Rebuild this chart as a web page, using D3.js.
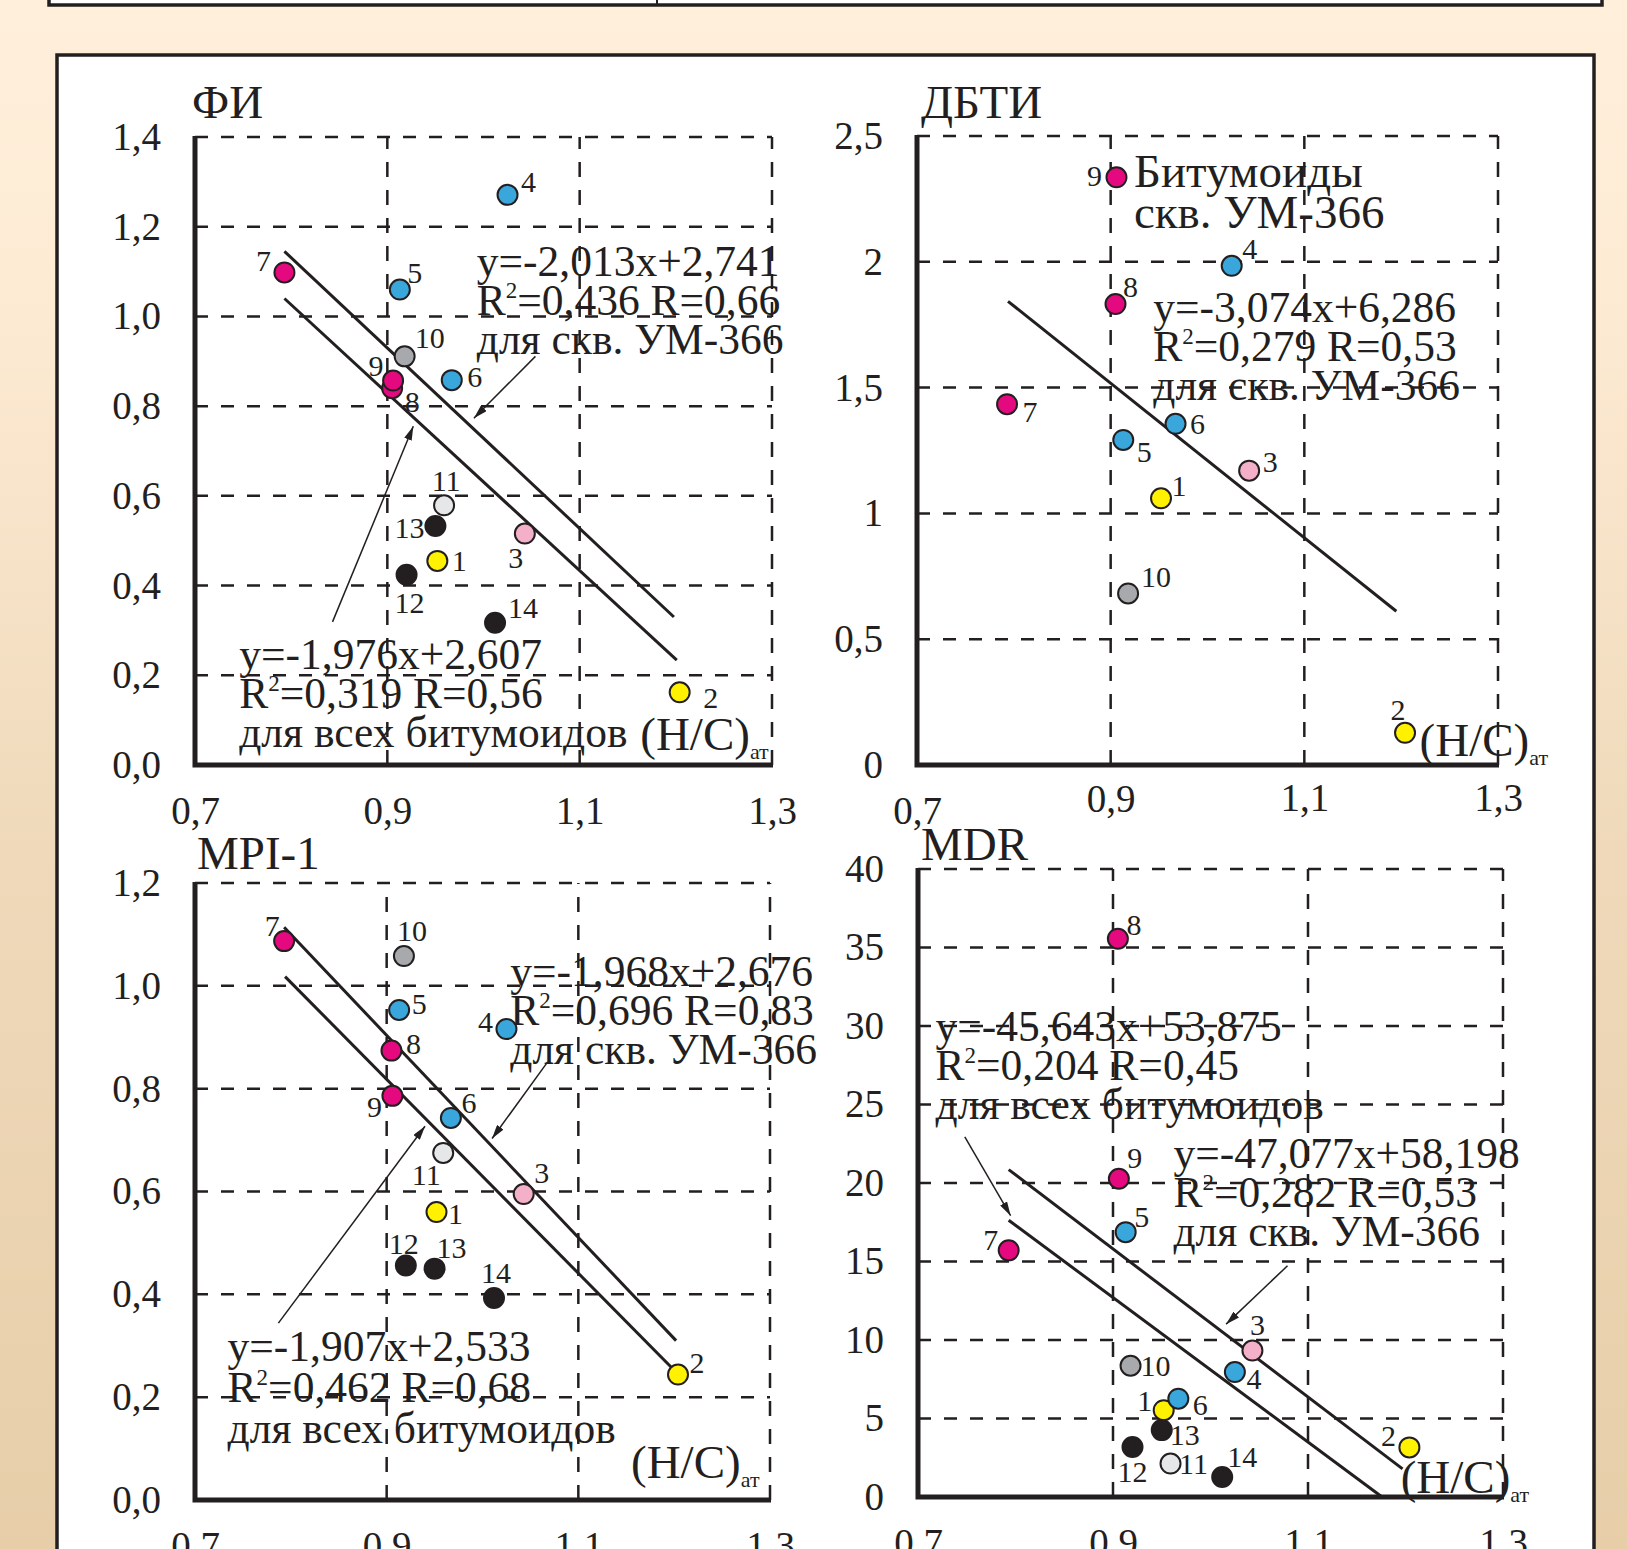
<!DOCTYPE html>
<html>
<head>
<meta charset="utf-8">
<script src="https://cdn.jsdelivr.net/npm/d3@7"></script>
<style>
  body { margin: 0; }
  svg text { font-family: "Liberation Serif", "Times New Roman", serif; fill: #231f20; }
</style>
</head>
<body>
<svg id="chart"></svg>
<script>
// samples 1..14, atomic H/C on the x axis (same for every panel)
const sampleIds = [1, 2, 3, 4, 5, 6, 7, 8, 9, 10, 11, 12, 13, 14];
const hcValues = [0.952, 1.204, 1.043, 1.025, 0.913, 0.967, 0.793, 0.905, 0.906, 0.918, 0.959, 0.920, 0.950, 1.012];

const fiValues   = [0.455, 0.162, 0.516, 1.271, 1.060, 0.858, 1.098, 0.840, 0.857, 0.911, 0.579, 0.424, 0.533, 0.317];
const dbtiValues = [1.060, 0.128, 1.170, 1.984, 1.292, 1.356, 1.434, 1.832, 2.336, 0.682, null, null, null, null];
const mpiValues  = [0.560, 0.244, 0.595, 0.916, 0.953, 0.743, 1.087, 0.874, 0.786, 1.058, 0.675, 0.456, 0.450, 0.393];
const mdrValues  = [5.53, 3.16, 9.33, 7.96, 16.87, 6.26, 15.71, 35.56, 20.27, 8.36, 2.13, 3.19, 4.26, 1.28];

// trend lines as [[x0, y0], [x1, y1]]
const fiTrendWell = [[0.793, 1.145], [1.198, 0.330]];
const fiTrendAll  = [[0.793, 1.040], [1.201, 0.234]];
const dbtiTrendWell = [[0.794, 1.843], [1.195, 0.611]];
const mpiTrendWell = [[0.793, 1.114], [1.202, 0.310]];
const mpiTrendAll  = [[0.794, 1.018], [1.205, 0.243]];
const mdrTrendWell = [[0.793, 20.85], [1.197, 1.79]];
const mdrTrendAll  = [[0.793, 17.63], [1.176, 0.0]];

// ticks
const xTicks = [0.7, 0.9, 1.1, 1.3];
const xTickLabels = ['0,7', '0,9', '1,1', '1,3'];
const fiTicks = [0, 0.2, 0.4, 0.6, 0.8, 1.0, 1.2, 1.4];
const fiTickLabels = ['0,0', '0,2', '0,4', '0,6', '0,8', '1,0', '1,2', '1,4'];
const dbtiTicks = [0, 0.5, 1, 1.5, 2, 2.5];
const dbtiTickLabels = ['0', '0,5', '1', '1,5', '2', '2,5'];
const mpiTicks = [0, 0.2, 0.4, 0.6, 0.8, 1.0, 1.2];
const mpiTickLabels = ['0,0', '0,2', '0,4', '0,6', '0,8', '1,0', '1,2'];
const mdrTicks = [0, 5, 10, 15, 20, 25, 30, 35, 40];
const mdrTickLabels = ['0', '5', '10', '15', '20', '25', '30', '35', '40'];

// equation texts
const fiWellText = ['y=-2,013x+2,741', 'R²=0,436 R=0,66', 'для скв. УМ-366'];
const fiAllText  = ['y=-1,976x+2,607', 'R²=0,319 R=0,56', 'для всех битумоидов'];
const dbtiWellText = ['y=-3,074x+6,286', 'R²=0,279 R=0,53', 'для скв. УМ-366'];
const dbtiLegendText = ['Битумоиды', 'скв. УМ-366'];
const mpiWellText = ['y=-1,968x+2,676', 'R²=0,696 R=0,83', 'для скв. УМ-366'];
const mpiAllText  = ['y=-1,907x+2,533', 'R²=0,462 R=0,68', 'для всех битумоидов'];
const mdrAllText  = ['y=-45,643x+53,875', 'R²=0,204 R=0,45', 'для всех битумоидов'];
const mdrWellText = ['y=-47,077x+58,198', 'R²=0,282 R=0,53', 'для скв. УМ-366'];
const axisNameText = '(H/C)_ат';

// styling
const sampleColors = ['#fff100', '#fff100', '#f4afc9', '#3aa7dc', '#3aa7dc', '#3aa7dc', '#e5097f',
  '#e5097f', '#e5097f', '#a7a9ac', '#e6e7e8', '#231f20', '#231f20', '#231f20'];
const ink = '#231f20';

// label offsets [dx, dy] of point numbers
const fiLabelOffsets = [[22,0],[31,5],[-9,24],[21,-13],[15,-17],[23,-3],[-21,-12],[20,14],[-17,-15],[25,-19],[2,-24],[3,28],[-26,2],[28,-15]];
const dbtiLabelOffsets = [[18,-13],[-7,-23],[21,-9],[18,-17],[21,12],[22,0],[23,8],[15,-17],[-22,-1],[28,-17],null,null,null,null];
const mpiLabelOffsets = [[19,2],[19,-12],[18,-21],[-21,-7],[20,-6],[18,-15],[-12,-15],[22,-7],[-18,11],[8,-25],[-17,22],[-2,-22],[17,-21],[2,-25]];
const mdrLabelOffsets = [[-19,-9],[-21,-12],[5,-26],[19,7],[16,-15],[22,6],[-18,-11],[16,-14],[16,-21],[25,0],[23,0],[0,25],[23,5],[20,-20]];

const W = 1627, H = 1549;
const svg = d3.select('#chart').attr('width', W).attr('height', H);

const defs = svg.append('defs');
const grad = defs.append('linearGradient').attr('id', 'bg').attr('x1', 0).attr('y1', 0).attr('x2', 0).attr('y2', 1);
[['0%', '#ffefdb'], ['18%', '#fdebd4'], ['55%', '#efd9ba'], ['100%', '#e7cea9']].forEach(([o, c]) =>
  grad.append('stop').attr('offset', o).attr('stop-color', c));
defs.append('marker')
  .attr('id', 'arrow').attr('markerUnits', 'userSpaceOnUse')
  .attr('viewBox', '0 0 14 8').attr('refX', 14).attr('refY', 4)
  .attr('markerWidth', 14).attr('markerHeight', 8).attr('orient', 'auto')
  .append('path').attr('d', 'M0,0L14,4L0,8Z').attr('fill', ink);

svg.append('rect').attr('width', W).attr('height', H).attr('fill', 'url(#bg)');

// top band (previous figure) and main frame
svg.append('rect').attr('x', 49).attr('y', -10).attr('width', 1553).attr('height', 15)
  .attr('fill', '#fff').attr('stroke', ink).attr('stroke-width', 3.5);
svg.append('line').attr('x1', 657).attr('x2', 657).attr('y1', 0).attr('y2', 4).attr('stroke', ink).attr('stroke-width', 2);
svg.append('rect').attr('x', 57).attr('y', 55).attr('width', 1537).attr('height', 1520)
  .attr('fill', '#fff').attr('stroke', ink).attr('stroke-width', 3.5);

const panels = [
  { name: 'ФИ', nameAt: [-3, -19], values: fiValues, left: 195, right: 772, top: 137, bottom: 765, yMax: 1.4,
    ticks: fiTicks, tickLabels: fiTickLabels, labels: fiLabelOffsets, xLift: [0, 0, 0, 0],
    trends: [fiTrendWell, fiTrendAll],
    texts: [{ lines: fiWellText, at: [0.993, 1.090] }, { lines: fiAllText, at: [0.746, 0.214] },
            { lines: [axisNameText], at: [1.163, 0.033], big: true }],
    arrows: [[[1.054, 0.911], [0.990, 0.773]], [[0.843, 0.319], [0.927, 0.755]]] },
  { name: 'ДБТИ', nameAt: [4, -18], values: dbtiValues, left: 917, right: 1498, top: 136, bottom: 765, yMax: 2.5,
    ticks: dbtiTicks, tickLabels: dbtiTickLabels, labels: dbtiLabelOffsets, xLift: [0, 12, 13, 13],
    trends: [dbtiTrendWell],
    texts: [{ lines: dbtiLegendText, at: [0.924, 2.299], gap: 41, big: true }, { lines: dbtiWellText, at: [0.944, 1.761] },
            { lines: [axisNameText], at: [1.219, 0.036], big: true }],
    arrows: [] },
  { name: 'MPI-1', nameAt: [2, -14], values: mpiValues, left: 195, right: 770, top: 883, bottom: 1500, yMax: 1.2,
    ticks: mpiTicks, tickLabels: mpiTickLabels, labels: mpiLabelOffsets, xLift: [0, 0, 0, 0],
    trends: [mpiTrendWell, mpiTrendAll],
    texts: [{ lines: mpiWellText, at: [1.029, 1.000] }, { lines: mpiAllText, at: [0.734, 0.270], gap: 41 },
            { lines: [axisNameText], at: [1.155, 0.043], big: true }],
    arrows: [[[1.068, 0.852], [1.010, 0.703]], [[0.787, 0.344], [0.940, 0.727]]] },
  { name: 'MDR', nameAt: [3, -9], values: mdrValues, left: 918, right: 1503, top: 869, bottom: 1497, yMax: 40,
    ticks: mdrTicks, tickLabels: mdrTickLabels, labels: mdrLabelOffsets, xLift: [0, 0, 0, 0],
    trends: [mdrTrendWell, mdrTrendAll],
    texts: [{ lines: mdrAllText, at: [0.718, 29.04] }, { lines: mdrWellText, at: [0.962, 20.96] },
            { lines: [axisNameText], at: [1.195, 0.25], big: true }],
    arrows: [[[0.748, 22.94], [0.795, 17.92]], [[1.079, 14.73], [1.016, 11.01]]] }
];

const textSize = 43.5, bigSize = 47, tickSize = 39;

// one text line with R² superscript and _subscript handled as tspans
function writeLine(sel, str, size) {
  const t = sel.append('text').attr('font-size', size);
  const sup = str.indexOf('²'), sub = str.indexOf('_');
  if (sup >= 0) {
    t.append('tspan').text(str.slice(0, sup));
    t.append('tspan').attr('font-size', 23).attr('dy', -17).text('2');
    t.append('tspan').attr('dy', 17).text(str.slice(sup + 1));
  } else if (sub >= 0) {
    t.append('tspan').text(str.slice(0, sub));
    t.append('tspan').attr('font-size', 22).attr('dy', 9).text(str.slice(sub + 1));
  } else {
    t.text(str);
  }
  return t;
}

const render = p => {
  const x = d3.scaleLinear().domain([0.7, 1.3]).range([p.left, p.right]);
  const y = d3.scaleLinear().domain([0, p.yMax]).range([p.bottom, p.top]);
  const g = svg.append('g');

  // dashed grid
  g.selectAll('.hgrid').data(p.ticks.filter(v => v > 0)).join('line')
    .attr('x1', x(0.7)).attr('x2', x(1.3))
    .attr('y1', d => y(d)).attr('y2', d => y(d))
    .attr('stroke', ink).attr('stroke-width', 2.5).attr('stroke-dasharray', '13,13');
  g.selectAll('.vgrid').data(xTicks.slice(1)).join('line')
    .attr('x1', d => x(d)).attr('x2', d => x(d))
    .attr('y1', y(0)).attr('y2', y(p.yMax))
    .attr('stroke', ink).attr('stroke-width', 2.5).attr('stroke-dasharray', '15,13');

  // tick labels
  const yAxisG = g.append('g').attr('transform', `translate(${x(0.7)},0)`)
    .call(d3.axisLeft(y).tickValues(p.ticks).tickFormat((d, i) => p.tickLabels[i]).tickSize(0).tickPadding(34));
  const xAxisG = g.append('g').attr('transform', `translate(0,${y(0)})`)
    .call(d3.axisBottom(x).tickValues(xTicks).tickFormat((d, i) => xTickLabels[i]).tickSize(0).tickPadding(31));
  [yAxisG, xAxisG].forEach(a => {
    a.select('.domain').remove();
    a.attr('font-size', null).attr('font-family', null);
    a.selectAll('text').attr('font-size', tickSize).attr('fill', ink);
  });
  xAxisG.selectAll('text').attr('y', (d, i) => 31 - p.xLift[i]);

  // axes
  g.append('path')
    .attr('d', `M${x(0.7)},${y(p.yMax) - 1}V${y(0)}H${x(1.3) + 1}`)
    .attr('fill', 'none').attr('stroke', ink).attr('stroke-width', 5);

  // title
  g.append('text').attr('x', x(0.7) + p.nameAt[0]).attr('y', y(p.yMax) + p.nameAt[1])
    .attr('font-size', bigSize).text(p.name);

  // trend lines
  const line = d3.line().x(d => x(d[0])).y(d => y(d[1]));
  p.trends.forEach(t => g.append('path').attr('d', line(t))
    .attr('fill', 'none').attr('stroke', ink).attr('stroke-width', 3));

  // arrows
  p.arrows.forEach(a => g.append('path').attr('d', line(a))
    .attr('fill', 'none').attr('stroke', ink).attr('stroke-width', 1.5)
    .attr('marker-end', 'url(#arrow)'));

  // equation texts
  p.texts.forEach(b => {
    const gap = b.gap || 39;
    b.lines.forEach((s, i) => writeLine(g, s, b.big ? bigSize : textSize)
      .attr('x', x(b.at[0])).attr('y', y(b.at[1]) + i * gap));
  });

  // points
  const pts = sampleIds.map((id, i) => ({ id, x: hcValues[i], y: p.values[i], c: sampleColors[i], off: p.labels[i] }))
    .filter(d => d.y !== null);
  g.selectAll('.pt').data(pts).join('circle')
    .attr('cx', d => x(d.x)).attr('cy', d => y(d.y)).attr('r', 10)
    .attr('fill', d => d.c).attr('stroke', ink).attr('stroke-width', 2);
  g.selectAll('.lbl').data(pts).join('text')
    .attr('x', d => x(d.x) + d.off[0]).attr('y', d => y(d.y) + d.off[1])
    .attr('dy', '0.34em').attr('text-anchor', 'middle').attr('font-size', 30)
    .text(d => d.id);
};

panels.forEach(render);
</script>
</body>
</html>
